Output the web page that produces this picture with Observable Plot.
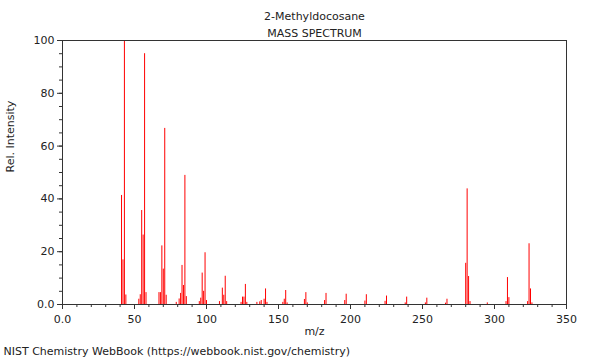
<!DOCTYPE html>
<html>
<head>
<meta charset="utf-8">
<script src="https://cdn.jsdelivr.net/npm/d3@7"></script>
<script src="https://cdn.jsdelivr.net/npm/@observablehq/plot@0.6"></script>
<style>
  html, body { margin: 0; padding: 0; background: #fff; }
  #chart { width: 600px; height: 360px; }
</style>
</head>
<body>
<div id="chart"></div>
<script>
// m/z values and relative intensities
const mz = [41, 42, 43, 44, 53, 54, 55, 56, 57, 58,
  67, 68, 69, 70, 71, 72, 79, 81, 82, 83, 84, 85, 86,
  95, 96, 97, 98, 99, 100, 109, 111, 112, 113, 114,
  124, 125, 126, 127, 128, 135, 137, 138, 140, 141, 142,
  153, 154, 155, 156, 168, 169, 170, 182, 183, 196, 197,
  210, 211, 224, 225, 238, 239, 252, 253, 266, 267,
  280, 281, 282, 283, 295, 308, 309, 310, 323, 324, 325, 326];
const intensity = [41.3, 16.9, 100, 3.6, 2.0, 3.7, 35.6, 26.3, 95, 4.5,
  4.5, 4.5, 22.2, 13.4, 66.7, 3.5, 0.8, 2.1, 4.2, 14.8, 7.2, 48.9, 3.0,
  1.1, 2.4, 11.9, 5.0, 19.6, 1.5, 1.1, 6.2, 3.5, 10.7, 1.1,
  0.8, 2.8, 2.8, 7.6, 0.8, 0.8, 1.0, 1.5, 2.0, 5.9, 0.8,
  0.8, 2.0, 5.3, 0.6, 1.9, 4.5, 0.6, 1.5, 4.2, 1.5, 3.9,
  1.3, 3.7, 1.2, 3.2, 0.6, 2.8, 0.6, 2.4, 0.5, 2.0,
  15.6, 43.8, 10.6, 1.1, 0.6, 1.1, 10.2, 2.6, 1.1, 23, 5.9, 0.6];

const xMajor = [0, 50, 100, 150, 200, 250, 300, 350];
const xMinor = d3.range(0, 351, 10);
const yMajor = [0, 20, 40, 60, 80, 100];
const yMinor = d3.range(0, 101, 5);

const titleText = "2-Methyldocosane";
const subtitleText = "MASS SPECTRUM";
const xLabel = "m/z";
const yLabel = "Rel. Intensity";
const captionText = "NIST Chemistry WebBook (https://webbook.nist.gov/chemistry)";

const peaks = mz.map((m, i) => ({mz: m, intensity: intensity[i]}));
const fmt = d => d === 0 ? "0.0" : String(d);
const axisColor = "#333";

const chart = Plot.plot({
  width: 600,
  height: 360,
  marginLeft: 62,
  marginRight: 34,
  marginTop: 40,
  marginBottom: 56,
  style: {fontFamily: "DejaVu Sans", fontSize: "11px", background: "#fff", color: "#222"},
  x: {domain: [0, 350]},
  y: {domain: [0, 100]},
  marks: [
    Plot.ruleX(peaks, {x: "mz", y1: 0, y2: "intensity", stroke: "#ff0000", strokeWidth: 1}),
    Plot.frame({stroke: axisColor}),
    Plot.axisX({ticks: xMinor, tickSize: 3, tickFormat: null, text: null, label: null, stroke: axisColor}),
    Plot.axisX({ticks: xMajor, tickSize: 5, tickPadding: 6, tickFormat: fmt, label: null, stroke: axisColor, fill: "#222"}),
    Plot.axisY({ticks: yMinor, tickSize: 3, tickFormat: null, text: null, label: null, stroke: axisColor}),
    Plot.axisY({ticks: yMajor, tickSize: 5, tickPadding: 3, tickFormat: fmt, label: null, stroke: axisColor, fill: "#222"}),
    Plot.text([titleText], {text: d => d, frameAnchor: "top", dy: -28, fill: "#222"}),
    Plot.text([subtitleText], {text: d => d, frameAnchor: "top", dy: -11, fill: "#222"}),
    Plot.text([xLabel], {text: d => d, frameAnchor: "bottom", dy: 30, fill: "#222"}),
    Plot.text([yLabel], {text: d => d, frameAnchor: "left", dx: -52, rotate: -90, fill: "#222"}),
    Plot.text([captionText], {text: d => d, frameAnchor: "bottom-left", dx: -59, dy: 50, textAnchor: "start", fill: "#222"})
  ]
});
document.getElementById("chart").appendChild(chart);
</script>
</body>
</html>
